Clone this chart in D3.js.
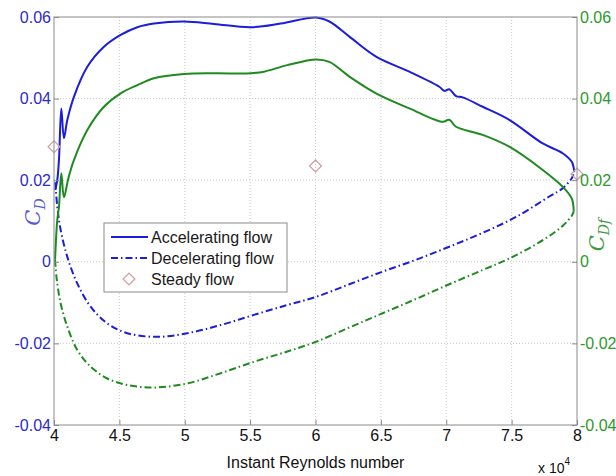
<!DOCTYPE html>
<html>
<head>
<meta charset="utf-8">
<script src="https://cdn.jsdelivr.net/npm/d3@7"></script>
<style>
	body { margin: 0; background: #fff; }
	svg { display: block; font-family: Arial, 'Liberation Sans', sans-serif; }
</style>
</head>
<body>
<svg width="616" height="476"></svg>
<script>
// Reynolds number in units of 1e4, coefficient values
let accelCD = [
	[4.010, 0.0176], [4.025, 0.0200], [4.038, 0.0250], [4.056, 0.0376], [4.076, 0.0303],
	[4.102, 0.0348], [4.153, 0.0405], [4.255, 0.0478], [4.382, 0.0527], [4.510, 0.0556],
	[4.637, 0.0575], [4.765, 0.0584], [4.994, 0.0589], [5.224, 0.0583], [5.504, 0.0575],
	[5.734, 0.0584], [6.004, 0.0599], [6.106, 0.0589], [6.259, 0.0552], [6.463, 0.0503],
	[6.718, 0.0466], [6.947, 0.0429], [6.985, 0.0419], [7.023, 0.0423], [7.075, 0.0406],
	[7.126, 0.0403], [7.279, 0.0380], [7.482, 0.0348], [7.738, 0.0290], [7.890, 0.0266],
	[7.960, 0.0245], [7.979, 0.0220]
]
let accelCDf = [
	[4.008, 0.0005], [4.025, 0.0102], [4.038, 0.0135], [4.056, 0.0217], [4.076, 0.0158],
	[4.110, 0.0205], [4.153, 0.0250], [4.255, 0.0323], [4.382, 0.0380], [4.510, 0.0413],
	[4.637, 0.0433], [4.765, 0.0450], [4.994, 0.0460], [5.224, 0.0462], [5.504, 0.0462],
	[5.606, 0.0466], [5.784, 0.0482], [6.004, 0.0496], [6.106, 0.0490], [6.259, 0.0454],
	[6.463, 0.0413], [6.718, 0.0376], [6.972, 0.0343], [7.023, 0.0348], [7.075, 0.0331],
	[7.279, 0.0311], [7.482, 0.0282], [7.738, 0.0225], [7.890, 0.0184], [7.960, 0.0155],
	[7.975, 0.0123]
]
let decelCD = [
	[4.010, 0.0195], [4.025, 0.0135], [4.051, 0.0078], [4.102, 0.0012], [4.178, -0.0053],
	[4.280, -0.0110], [4.408, -0.0151], [4.561, -0.0175], [4.790, -0.0184], [5.020, -0.0175],
	[5.275, -0.0155], [5.530, -0.0130], [5.784, -0.0106], [6.004, -0.0086], [6.259, -0.0055],
	[6.514, -0.0024], [6.769, 0.0005], [7.023, 0.0037], [7.279, 0.0071], [7.534, 0.0110],
	[7.788, 0.0160], [7.890, 0.0180], [7.960, 0.0205], [7.979, 0.0220]
]
let decelCDf = [
	[4.008, 0.0005], [4.020, -0.0040], [4.051, -0.0102], [4.102, -0.0159], [4.178, -0.0216],
	[4.280, -0.0257], [4.408, -0.0286], [4.561, -0.0302], [4.765, -0.0308], [5.020, -0.0298],
	[5.275, -0.0273], [5.530, -0.0245], [5.784, -0.0220], [6.004, -0.0196], [6.259, -0.0161],
	[6.514, -0.0126], [6.769, -0.0091], [7.023, -0.0055], [7.279, -0.0020], [7.482, 0.0008],
	[7.738, 0.0053], [7.890, 0.0088], [7.960, 0.0113], [7.975, 0.0123]
]
let steady = [[4.0, 0.0282], [6.0, 0.0235], [8.0, 0.0215]]

let xTicks = [4, 4.5, 5, 5.5, 6, 6.5, 7, 7.5, 8]
let xTickLabels = ['4', '4.5', '5', '5.5', '6', '6.5', '7', '7.5', '8']
let yTicks = [-0.04, -0.02, 0, 0.02, 0.04, 0.06]
let yTickLabels = ['-0.04', '-0.02', '0', '0.02', '0.04', '0.06']
let legendLabels = ['Accelerating flow', 'Decelerating flow', 'Steady flow']

let config = {
	left: 54,
	right: 577,
	top: 17,
	bottom: 425,
	blue: '#1c1cdc',
	green: '#1f8a1f',
	blueText: '#2b2bcf',
	greenText: '#2a9a2a',
	diamond: '#cfa3a3',
	dashDot: '7,3,1.5,3',
}

function createScales() {
	config.xScale = d3.scaleLinear()
		.domain([4, 8])
		.range([config.left, config.right])
	config.yScale = d3.scaleLinear()
		.domain([-0.04, 0.06])
		.range([config.bottom, config.top])
}

function drawGrid(svg) {
	let g = svg.append('g').attr('id', 'grid')
	g.selectAll('.vgrid')
		.data(xTicks.slice(1, -1))
		.enter().append('line')
		.attr('x1', d => config.xScale(d)).attr('x2', d => config.xScale(d))
		.attr('y1', config.top).attr('y2', config.bottom)
		.attr('stroke', '#c9c9c9').attr('stroke-dasharray', '1,2')
	g.selectAll('.hgrid')
		.data(yTicks.slice(1, -1))
		.enter().append('line')
		.attr('x1', config.left).attr('x2', config.right)
		.attr('y1', d => config.yScale(d)).attr('y2', d => config.yScale(d))
		.attr('stroke', '#c9c9c9').attr('stroke-dasharray', '1,2')
}

function drawAxis(svg) {
	let bottomAxis = d3.axisBottom(config.xScale)
		.tickValues(xTicks)
		.tickFormat((d, i) => xTickLabels[i])
		.tickSizeInner(-5).tickSizeOuter(0).tickPadding(5)
	let bottomG = svg.append('g')
		.attr('transform', `translate(0, ${config.bottom})`)
		.call(bottomAxis)

	let leftAxis = d3.axisLeft(config.yScale)
		.tickValues(yTicks)
		.tickFormat((d, i) => yTickLabels[i])
		.tickSizeInner(-5).tickSizeOuter(0).tickPadding(3)
	let leftG = svg.append('g')
		.attr('transform', `translate(${config.left}, 0)`)
		.call(leftAxis)

	let rightAxis = d3.axisRight(config.yScale)
		.tickValues(yTicks)
		.tickFormat((d, i) => yTickLabels[i])
		.tickSizeInner(-5).tickSizeOuter(0).tickPadding(3)
	let rightG = svg.append('g')
		.attr('transform', `translate(${config.right}, 0)`)
		.call(rightAxis)

	for (let g of [bottomG, leftG, rightG]) {
		g.select('.domain').remove()
		g.selectAll('.tick line').attr('stroke', '#888')
		g.selectAll('text').attr('font-size', 16).attr('font-family', 'Arial, Liberation Sans, sans-serif')
	}
	bottomG.selectAll('text').attr('fill', '#111')
	leftG.selectAll('text').attr('fill', config.blueText)
	rightG.selectAll('text').attr('fill', config.greenText)

	// frame
	svg.append('rect')
		.attr('x', config.left).attr('y', config.top)
		.attr('width', config.right - config.left)
		.attr('height', config.bottom - config.top)
		.attr('fill', 'none').attr('stroke', '#8a8a8a')

	svg.append('text')
		.attr('x', (config.left + config.right) / 2).attr('y', 468)
		.attr('text-anchor', 'middle').attr('font-size', 16).attr('fill', '#111')
		.text('Instant Reynolds number')

	let mult = svg.append('text')
		.attr('x', 538).attr('y', 473)
		.attr('font-size', 14).attr('fill', '#111')
	mult.append('tspan').text('x 10')
	mult.append('tspan').attr('dy', -8).attr('font-size', 10).text('4')

	let cd = svg.append('text')
		.attr('transform', 'translate(40, 212) rotate(-90)')
		.attr('text-anchor', 'middle')
		.attr('font-family', 'DejaVu Serif, Liberation Serif, serif')
		.attr('font-style', 'italic').attr('font-size', 21)
		.attr('fill', '#5a5ad2')
	cd.append('tspan').text('C')
	cd.append('tspan').attr('dy', 5).attr('font-size', 14).text('D')

	let cdf = svg.append('text')
		.attr('transform', 'translate(604, 235) rotate(-90)')
		.attr('text-anchor', 'middle')
		.attr('font-family', 'DejaVu Serif, Liberation Serif, serif')
		.attr('font-style', 'italic').attr('font-size', 21)
		.attr('fill', '#3f9a3f')
	cdf.append('tspan').text('C')
	cdf.append('tspan').attr('dy', 5).attr('font-size', 14).text('Df')
}

function diamondPath(size) {
	return d3.symbol().type(d3.symbolSquare).size(size)()
}

function render(svg) {
	let line = d3.line()
		.x(d => config.xScale(d[0]))
		.y(d => config.yScale(d[1]))
		.curve(d3.curveCatmullRom.alpha(0.5))

	let series = [
		{ data: decelCDf, color: config.green, dash: config.dashDot },
		{ data: decelCD, color: config.blue, dash: config.dashDot },
		{ data: accelCDf, color: config.green, dash: null },
		{ data: accelCD, color: config.blue, dash: null },
	]

	svg.append('g').attr('id', 'lines')
		.selectAll('path')
		.data(series)
		.enter().append('path')
		.attr('d', d => line(d.data))
		.attr('fill', 'none')
		.attr('stroke', d => d.color)
		.attr('stroke-width', 2)
		.attr('stroke-linejoin', 'round')
		.attr('stroke-dasharray', d => d.dash)

	svg.append('g').attr('id', 'steady')
		.selectAll('path')
		.data(steady)
		.enter().append('path')
		.attr('d', diamondPath(70))
		.attr('transform', d => `translate(${config.xScale(d[0])}, ${config.yScale(d[1])}) rotate(45)`)
		.attr('fill', 'none')
		.attr('stroke', config.diamond)
		.attr('stroke-width', 1.3)
}

function drawLegend(svg) {
	let g = svg.append('g').attr('transform', 'translate(104, 223)')
	g.append('rect')
		.attr('width', 183).attr('height', 69)
		.attr('fill', '#fff').attr('stroke', '#8a8a8a')

	let rows = g.selectAll('.row')
		.data(legendLabels)
		.enter().append('g')
		.attr('transform', (d, i) => `translate(0, ${14 + i * 21})`)

	rows.filter((d, i) => i < 2).append('line')
		.attr('x1', 7).attr('x2', 44)
		.attr('stroke', config.blue).attr('stroke-width', 2)
		.attr('stroke-dasharray', (d, i) => i === 1 ? config.dashDot : null)

	rows.filter((d, i) => i === 2).append('path')
		.attr('d', diamondPath(70))
		.attr('transform', 'translate(25, 0) rotate(45)')
		.attr('fill', 'none').attr('stroke', config.diamond).attr('stroke-width', 1.3)

	rows.append('text')
		.attr('x', 47).attr('y', 6)
		.attr('font-size', 16).attr('fill', '#1a1a1a')
		.text(d => d)
}

function app() {
	let svg = d3.select('svg')
	createScales()
	drawGrid(svg)
	render(svg)
	drawAxis(svg)
	drawLegend(svg)
}

app()
</script>
</body>
</html>
